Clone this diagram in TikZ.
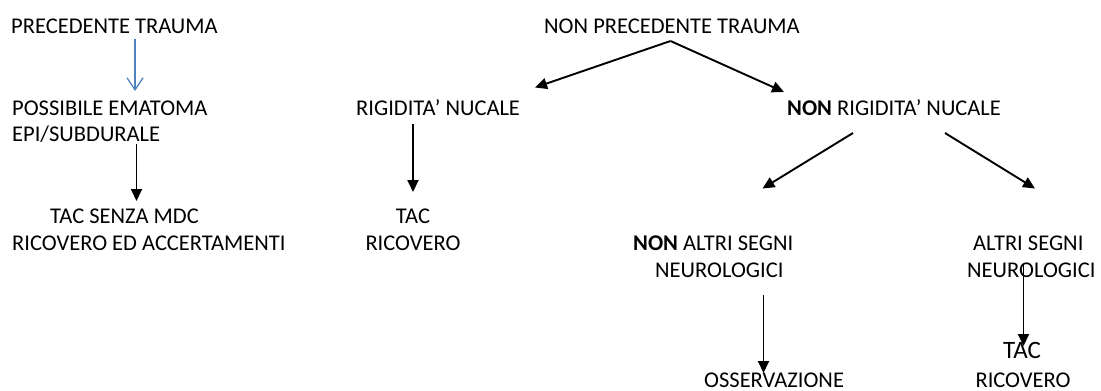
\documentclass[tikz,border=0pt]{standalone}
\usepackage{fontspec}
\setmainfont{Carlito}
\usetikzlibrary{arrows.meta}
\definecolor{linkblue}{HTML}{4F81BD}
\begin{document}
\begin{tikzpicture}[x=1pt,y=-1pt,
  txt/.style={inner sep=0pt, font=\fontsize{22.5}{27}\selectfont},
  lw/.style={txt, anchor=base west},
  lc/.style={txt, anchor=base},
  flat/.style={text depth=0pt},
  flow/.style={line width=1.9pt, -{Triangle[length=12pt,width=11pt]}},
  soft/.style={linkblue, line width=1.3pt, -{Straight Barb[length=12pt,width=16pt]}}]
\useasboundingbox (0,0) rectangle (1101,391);

% left branch
\node[lw] (pt)  at (11,33)  {PRECEDENTE TRAUMA};
\node[lw] (pe1) at (12,115) {POSSIBILE EMATOMA};
\node[lw] (pe2) at (12,141.5) {EPI/SUBDURALE};
\node[lw] (ts1) at (50,223) {TAC SENZA MDC};
\node[lw] (ts2) at (12,250) {RICOVERO ED ACCERTAMENTI};

% right tree
\node[lw] (npt) at (544,33)  {NON PRECEDENTE TRAUMA};
\node[lw] (rn)  at (356,115) {RIGIDITA’ NUCALE};
\node[lc] (tr1) at (413,223) {TAC};
\node[lc] (tr2) at (413,250) {RICOVERO};
\node[lw] (nrn) at (787,115) {\textbf{NON} RIGIDITA’ NUCALE};
\node[lw] (na1) at (633,250) {\textbf{NON} ALTRI SEGNI};
\node[lw] (na2) at (655,277) {NEUROLOGICI};
\node[lw, flat] (oss) at (704,387.5) {OSSERVAZIONE};
\node[lw] (as1) at (973,250) {ALTRI SEGNI};
\node[lw] (as2) at (967,277) {NEUROLOGICI};
\node[lc, font=\fontsize{25}{30}\selectfont] (tac) at (1022,358) {TAC};
\node[lc, flat] (ric) at (1023,387.5) {RICOVERO};

% connector end points
\coordinate (a1s) at (135,39);   \coordinate (a1e) at (135,91);
\coordinate (a2s) at (136.5,144); \coordinate (a2e) at (136.5,201);
\coordinate (top) at (670.5,41);
\coordinate (rnE) at (535,87.5);
\coordinate (nrnE) at (784,92);
\coordinate (a3s) at (413,124);  \coordinate (a3e) at (413,192);
\coordinate (l1s) at (853,133);  \coordinate (l1e) at (762.5,188.5);
\coordinate (r1s) at (945,133);  \coordinate (r1e) at (1035,188.5);
\coordinate (a4s) at (763.5,295); \coordinate (a4e) at (763.5,373);
\coordinate (a5s) at (1023.5,265); \coordinate (a5e) at (1023.5,346);

\draw[soft] (a1s) -- (a1e);
\draw[flow] (a2s) -- (a2e);
\draw[flow] (top) -- (rnE);
\draw[flow] (top) -- (nrnE);
\draw[flow] (a3s) -- (a3e);
\draw[flow] (l1s) -- (l1e);
\draw[flow] (r1s) -- (r1e);
\draw[flow] (a4s) -- (a4e);
\draw[flow] (a5s) -- (a5e);
\end{tikzpicture}
\end{document}
